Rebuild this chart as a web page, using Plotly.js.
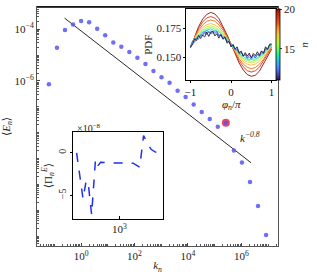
<!DOCTYPE html>
<html><head><meta charset="utf-8">
<script src="https://cdn.plot.ly/plotly-3.0.1.min.js"></script>
<style>html,body{margin:0;padding:0;background:#fff}#c{width:317px;height:274px}</style>
</head><body><div id="c"></div>
<script>
// ---- main spectrum data ----
const kn = [0.0625,0.125,0.25,0.5,1,2,4,8,16,32,64,128,256,512,1024,2048,4096,8192,16384,32768,65536,131072,262144,524288,1048576,2097152,4194304,8388608];
const En = [7.41e-7,1.91e-5,9.33e-5,1.51e-4,2.09e-4,1.86e-4,1.05e-4,5.89e-5,3.09e-5,2.09e-5,1.32e-5,7.94e-6,4.57e-6,2.45e-6,1.38e-6,8.51e-7,4.17e-7,2.40e-7,1.23e-7,6.31e-8,3.39e-8,1.70e-8,2.40e-8,2.04e-9,7.08e-10,1.23e-10,1.48e-11,1.10e-12];
const highlightK = [262144];
const highlightE = [2.40e-8];
const refLineK = [0.24, 2.3e6];
const refLineE = [2.7e-4, 6.9e-10];
const refLabel = 'k<sup>−0.8</sup>';
const xTickVals = [1,100,1e4,1e6];
const xTickText = ['10<sup>0</sup>','10<sup>2</sup>','10<sup>4</sup>','10<sup>6</sup>'];
const yTickVals = [1e-4,1e-6];
const yTickText = ['10<sup>−4</sup>','10<sup>−6</sup>'];

// ---- PDF inset data ----
const pdfN = [11,12,13,14,15,16,17,18,19,20];
const phiFine = [-1,-0.95,-0.9,-0.85,-0.8,-0.75,-0.7,-0.65,-0.6,-0.55,-0.5,-0.45,-0.4,-0.35,-0.3,-0.25,-0.2,-0.15,-0.1,-0.05,0,0.05,0.1,0.15,0.2,0.25,0.3,0.35,0.4,0.45,0.5,0.55,0.6,0.65,0.7,0.75,0.8,0.85,0.9,0.95,1];
const phiCoarse = [-1,-0.9,-0.8,-0.7,-0.6,-0.5,-0.4,-0.3,-0.2,-0.1,0,0.1,0.2,0.3,0.4,0.5,0.6,0.7,0.8,0.9,1];
const pdf11 = [0.1593,0.1607,0.1659,0.1645,0.1688,0.1662,0.1692,0.1675,0.1718,0.168,0.1717,0.1725,0.1684,0.1704,0.1665,0.1696,0.166,0.1677,0.1622,0.1636,0.1589,0.1611,0.1572,0.159,0.1535,0.1551,0.1509,0.154,0.1509,0.1536,0.1492,0.1533,0.1513,0.1547,0.1515,0.1555,0.1534,0.1591,0.1568,0.1613,0.1615];
const pdf12 = [0.1592,0.164,0.163,0.1666,0.1656,0.1695,0.1689,0.1721,0.1697,0.1723,0.17,0.1726,0.1706,0.172,0.1684,0.1691,0.1655,0.1668,0.1634,0.1639,0.1601,0.1599,0.1564,0.1574,0.1542,0.1552,0.1513,0.1524,0.1495,0.1517,0.15,0.152,0.1494,0.1525,0.1518,0.1551,0.1538,0.1575,0.1572,0.1605,0.161];
const pdf13 = [0.159,0.1618,0.1661,0.1657,0.1688,0.1676,0.1715,0.1702,0.1737,0.1712,0.173,0.1706,0.1729,0.1727,0.1693,0.1699,0.1663,0.1674,0.164,0.1638,0.1606,0.1606,0.1562,0.1565,0.1526,0.154,0.1512,0.1523,0.1489,0.15,0.1481,0.1505,0.1494,0.1524,0.1507,0.1535,0.1529,0.157,0.1566,0.1602,0.1607];
const pdf14 = [0.1598,0.1655,0.1683,0.172,0.1731,0.1745,0.1728,0.1718,0.1683,0.1655,0.1608,0.1572,0.1531,0.1508,0.1482,0.1483,0.1484,0.1508,0.1532,0.1575,0.1605];
const pdf15 = [0.1598,0.1657,0.1693,0.1731,0.1745,0.1758,0.1744,0.173,0.1697,0.1652,0.1613,0.1563,0.1527,0.149,0.1475,0.1463,0.1474,0.1495,0.1523,0.1566,0.1602];
const pdf16 = [0.1595,0.1662,0.1702,0.1741,0.1763,0.1772,0.176,0.1741,0.1702,0.166,0.1612,0.156,0.1517,0.148,0.1459,0.1449,0.146,0.1482,0.152,0.1558,0.1598];
const pdf17 = [0.1592,0.1665,0.1718,0.1757,0.1782,0.1791,0.178,0.1757,0.1717,0.1667,0.1611,0.1554,0.1505,0.1465,0.144,0.1431,0.1441,0.1466,0.1505,0.155,0.1595];
const pdf18 = [0.159,0.167,0.1732,0.178,0.181,0.1822,0.1812,0.178,0.1735,0.1676,0.1612,0.1546,0.1488,0.1442,0.1412,0.1402,0.1411,0.144,0.1483,0.154,0.159];
const pdf19 = [0.1585,0.1675,0.175,0.1805,0.184,0.1852,0.1838,0.1806,0.1752,0.1685,0.1612,0.1538,0.147,0.1418,0.1384,0.1372,0.1383,0.1415,0.1465,0.1525,0.1585];
const pdf20 = [0.158,0.168,0.1765,0.183,0.187,0.1888,0.1875,0.1835,0.177,0.1695,0.1615,0.153,0.145,0.139,0.135,0.1335,0.1345,0.138,0.144,0.151,0.157];
const pdfCurves = [pdf11,pdf12,pdf13,pdf14,pdf15,pdf16,pdf17,pdf18,pdf19,pdf20];
const pdfTickVals = [0.15,0.175];
const pdfTickText = ['0.150','0.175'];
const phiTickVals = [-1,0,1];
const phiTickText = ['−1','0','1'];
const nTickVals = [15,20];

// ---- flux inset data ----
const fluxK = [332,392,425,451,489,541,578,617,785,1057,1426,1694,1871,2051,2284,2523,2740];
const fluxPi = [0.0,-5.42,-3.27,-3.85,-7.28,-0.71,-1.50,-1.11,-1.18,-1.20,-1.22,-1.70,2.04,1.18,0.39,0.12,0.0];
const fluxTickVals = [1000];
const fluxTickText = ['10<sup>3</sup>'];
const piTickVals = [-5,0];
const piTickText = ['−5','0'];

// ---- styling ----
const turbo = [[0,'#30123b'],[0.0714,'#4145ab'],[0.1429,'#4675ed'],[0.2143,'#39a2fc'],[0.2857,'#1bcfd4'],[0.3571,'#24eca6'],[0.4286,'#61fc6c'],[0.5,'#a4fc3b'],[0.5714,'#d1e834'],[0.6429,'#f3c63a'],[0.7143,'#fe9b2d'],[0.7857,'#f36315'],[0.8571,'#e04010'],[0.9286,'#cc2a08'],[1,'#9a0a04']];
const cmin = 11, cmax = 20;
function hex2rgb(h){return [parseInt(h.substr(1,2),16),parseInt(h.substr(3,2),16),parseInt(h.substr(5,2),16)];}
function cs(v){
  let t=(v-cmin)/(cmax-cmin); t=Math.max(0,Math.min(1,t));
  for(let i=1;i<turbo.length;i++){
    if(t<=turbo[i][0]){
      const a=turbo[i-1],b=turbo[i];const f=(t-a[0])/(b[0]-a[0]);
      const ca=hex2rgb(a[1]),cb=hex2rgb(b[1]);
      return 'rgb('+ca.map((c,j)=>Math.round(c+(cb[j]-c)*f)).join(',')+')';
    }
  }
  return turbo[turbo.length-1][1];
}
function minorLog(d0,d1,skip){
  const v=[];
  for(let d=d0;d<=d1;d++){for(let m=1;m<10;m++){const x=m*Math.pow(10,d);if(!skip.includes(x))v.push(x);}}
  return v;
}
const FONT = 'Liberation Serif, DejaVu Serif, serif';

const traces = [];
traces.push({x:refLineK,y:refLineE,mode:'lines',line:{color:'#111',width:0.9},xaxis:'x',yaxis:'y',hoverinfo:'skip'});
traces.push({x:highlightK,y:highlightE,mode:'markers',marker:{color:'rgba(235,40,60,0.85)',size:8},xaxis:'x',yaxis:'y'});
traces.push({x:kn,y:En,mode:'markers',marker:{color:'rgba(85,85,250,0.85)',size:4.5},xaxis:'x',yaxis:'y'});

for(let i=pdfN.length-1;i>=0;i--){
  const c=pdfCurves[i];
  traces.push({x:c.length===phiFine.length?phiFine:phiCoarse,y:c,mode:'lines',line:{color:cs(pdfN[i]),width:0.9},xaxis:'x2',yaxis:'y2',hoverinfo:'skip'});
}
traces.push({x:[0,0],y:[0.16,0.16],mode:'markers',xaxis:'x2',yaxis:'y2',
  marker:{size:0.1,opacity:0,color:[cmin,cmax],cmin:cmin,cmax:cmax,colorscale:turbo,showscale:true,
    colorbar:{x:0.992,xanchor:'left',xpad:0,y:0.99,yanchor:'top',ypad:0,len:0.297,lenmode:'fraction',thickness:4,
      outlinewidth:0.8,outlinecolor:'#000',tickvals:nTickVals,ticks:'outside',ticklen:2,
      tickfont:{family:FONT,size:11,color:'#222'},
      title:{text:'<i>n</i>',side:'right',font:{family:FONT,size:11,color:'#222'}}}}});

traces.push({x:fluxK,y:fluxPi,mode:'lines',line:{color:'#1f2ff0',width:1.5,dash:'dash'},xaxis:'x3',yaxis:'y3',hoverinfo:'skip'});

const tf = {family:FONT,size:11,color:'#222'};
const tfs = {family:FONT,size:10,color:'#222'};
const layout = {
  width:317,height:274,margin:{l:37,r:29,t:7,b:28},
  paper_bgcolor:'#fff',plot_bgcolor:'#fff',showlegend:false,
  xaxis:{type:'log',range:[-1.65,7.37],domain:[0,1],anchor:'y',tickvals:xTickVals,ticktext:xTickText,
    ticks:'inside',ticklen:3,tickcolor:'#444',showline:true,linecolor:'#555',linewidth:1,mirror:true,
    showgrid:false,zeroline:false,tickfont:tf,
    minor:{tickmode:'array',tickvals:minorLog(-2,7,xTickVals),ticks:'inside',ticklen:1.6,tickcolor:'#555',showgrid:false},
    title:{text:'<i>k</i><sub><i>n</i></sub>',font:tf,standoff:0}},
  yaxis:{type:'log',range:[-12.38,-3.14],domain:[0,1],anchor:'x',tickvals:yTickVals,ticktext:yTickText,
    ticks:'inside',ticklen:3,tickcolor:'#444',showline:true,linecolor:'#555',linewidth:1,mirror:true,
    showgrid:false,zeroline:false,tickfont:tf,
    minor:{tickmode:'array',tickvals:minorLog(-13,-3,yTickVals),ticks:'inside',ticklen:1.6,tickcolor:'#555',showgrid:false},
    title:{text:'⟨<i>E</i><sub><i>n</i></sub>⟩',font:tf,standoff:2}},
  xaxis2:{domain:[0.620,0.992],anchor:'y2',range:[-1.1,1.11],tickvals:phiTickVals,ticktext:phiTickText,
    ticks:'outside',ticklen:2,tickcolor:'#000',showline:true,linecolor:'#000',linewidth:1,mirror:true,
    showgrid:false,zeroline:false,tickfont:tf,
    title:{text:'<i>φ</i><sub><i>n</i></sub>/<i>π</i>',font:tf,standoff:1}},
  yaxis2:{domain:[0.695,0.990],anchor:'x2',range:[0.1304,0.1914],tickvals:pdfTickVals,ticktext:pdfTickText,
    ticks:'outside',ticklen:2,tickcolor:'#000',showline:true,linecolor:'#000',linewidth:1,mirror:true,
    showgrid:false,zeroline:false,tickfont:tf,
    title:{text:'PDF',font:tf,standoff:1}},
  xaxis3:{type:'log',domain:[0.151,0.521],anchor:'y3',range:[2.485,3.485],tickvals:fluxTickVals,ticktext:fluxTickText,
    ticks:'inside',ticklen:3,tickcolor:'#000',showline:true,linecolor:'#000',linewidth:1,mirror:true,
    showgrid:false,zeroline:false,tickfont:tf},
  yaxis3:{domain:[0.113,0.476],anchor:'x3',range:[-7.79,2.43],tickvals:piTickVals,ticktext:piTickText,tickangle:-90,
    ticks:'outside',ticklen:2,tickcolor:'#000',showline:true,linecolor:'#000',linewidth:1,mirror:true,
    showgrid:false,zeroline:false,tickfont:tfs,
    title:{text:'⟨Π<sub><i>n</i></sub><sup><i>E</i></sup>⟩',font:tf,standoff:2}},
  shapes:[
    {type:'line',xref:'paper',yref:'paper',x0:0,x1:1,y0:1,y1:1,line:{color:'#000',width:1.6}}
  ],
  annotations:[
    {xref:'paper',yref:'paper',x:0.935,y:0.455,text:'<i>'+refLabel+'</i>',showarrow:false,font:tf},
    {xref:'paper',yref:'paper',x:0.159,y:0.494,text:'×10<sup>−8</sup>',showarrow:false,font:tfs}
  ]
};
Plotly.newPlot('c',traces,layout,{staticPlot:true,displayModeBar:false});
</script></body></html>
